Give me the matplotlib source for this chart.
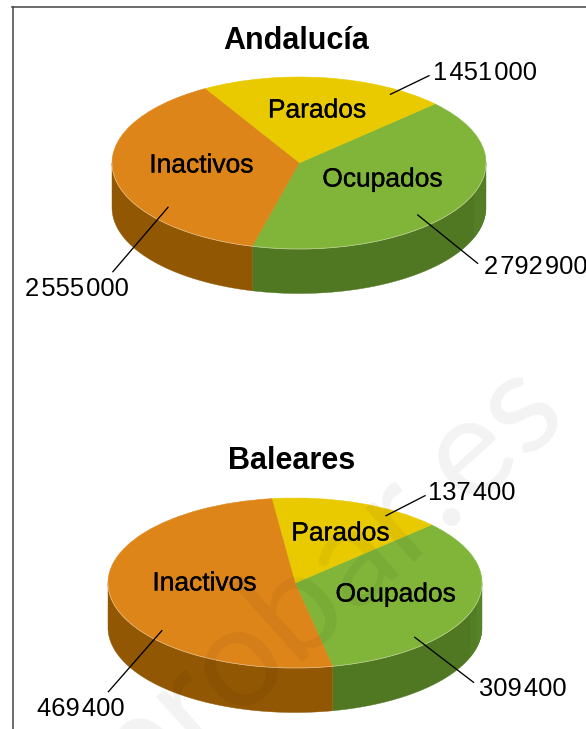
import numpy as np
import matplotlib
matplotlib.use("Agg")
import matplotlib.pyplot as plt
import matplotlib.patheffects as pe
from matplotlib.lines import Line2D
from matplotlib.patches import Polygon

W, H = 586, 729
plt.rcParams['font.family'] = ['Liberation Sans', 'DejaVu Sans']

categories = ['Ocupados', 'Parados', 'Inactivos']
andalucia_values = [2792900, 1451000, 2555000]
baleares_values = [309400, 137400, 469400]
titles = ['Andalucía', 'Baleares']

TOP = {'Ocupados': '#80B53A', 'Parados': '#E9CA00', 'Inactivos': '#DE851A'}
SIDE = {'Ocupados': '#507823', 'Parados': '#A08A00', 'Inactivos': '#915703'}
STRIP = '#547E25'
HEAVY = [pe.withStroke(linewidth=0.2, foreground='black')]


def fx(x):
    return x / W


def fy(y):
    return 1 - y / H


def fnum(v):
    return f"{v:,}".replace(',', '\u200a')


fig = plt.figure(figsize=(W / 100, H / 100), dpi=100, facecolor='white')


def draw_pie(values, title, cx, cy, rx, ry, depth, start, title_xy, cat_xy, leaders, strips):
    ax = fig.add_axes([fx(cx - rx), fy(cy + ry), 2 * rx / W, 2 * ry / H])
    wedges, _ = ax.pie(values, startangle=start, radius=1, center=(0, 0),
                       colors=[TOP[c] for c in categories],
                       wedgeprops={'linewidth': 0.4, 'antialiased': True})
    for w, c in zip(wedges, categories):
        w.set_edgecolor(TOP[c])
    ax.set_aspect('auto')
    ax.set_xlim(-1, 1)
    ax.set_ylim(-1, 1)
    ax.axis('off')

    d = depth / ry
    frac = np.cumsum([0] + list(values)) / sum(values)
    angles = start + 360 * frac
    for i, c in enumerate(categories):
        for lo_base in (0, 360, -360):
            a0 = max(angles[i], 180 + lo_base)
            a1 = min(angles[i + 1], 360 + lo_base)
            if a1 <= a0:
                continue
            t = np.radians(np.linspace(a0, a1, 120))
            top = np.column_stack([np.cos(t), np.sin(t)])
            bot = top[::-1] - [0, d]
            ax.add_patch(Polygon(np.vstack([top, bot]), closed=True, fc=SIDE[c],
                                 ec=SIDE[c], lw=0.3, clip_on=False, zorder=0.5))
            ax.plot(top[:, 0], top[:, 1], color='#EFEBD8', lw=0.5, alpha=0.6,
                    clip_on=False, zorder=3)
    for x0, color in strips:
        t = np.radians(np.linspace(-np.degrees(np.arccos(x0)), 0, 40))
        top = np.column_stack([np.cos(t), np.sin(t)])
        bot = top[::-1] - [0, d]
        ax.add_patch(Polygon(np.vstack([top, bot]), closed=True, fc=color,
                             ec='none', clip_on=False, zorder=0.6))

    fig.text(fx(title_xy[0]), fy(title_xy[1]), title, ha='center', va='center',
             fontsize=22, fontweight='bold', color='black', zorder=6)
    for c, (x, y) in zip(categories, cat_xy):
        fig.text(fx(x), fy(y), c, ha='center', va='center', fontsize=19,
                 color='black', zorder=6, path_effects=HEAVY)
    for v, (lx, ly, p0, p1) in zip(values, leaders):
        fig.add_artist(Line2D([fx(p0[0]), fx(p1[0])], [fy(p0[1]), fy(p1[1])],
                              color='black', lw=0.95, zorder=6))
        fig.text(fx(lx), fy(ly), fnum(v), ha='left', va='center', fontsize=18.4,
                 color='black', zorder=6)


draw_pie(andalucia_values, titles[0], 299, 163, 187, 86, 44.5, -104.5,
         (296, 41),
         [(382.5, 179.5), (317, 110.5), (201.5, 165.5)],
         [(484, 266.5, (417.8, 215), (477.6, 263.3)),
          (432.7, 72.5, (390.5, 94.3), (429, 75.7)),
          (25.4, 289.5, (168, 207.3), (112.9, 271.7))],
         [(0.936, STRIP)])
draw_pie(baleares_values, titles[1], 295, 583, 187, 85, 44.5, -78.4,
         (292, 461),
         [(395.7, 594.5), (340.4, 533.5), (204.6, 583.5)],
         [(479.4, 689.5, (414.8, 637.3), (473.5, 682.3)),
          (428, 492.5, (386, 515.7), (425, 495.7)),
          (37.4, 709.5, (161.8, 630.7), (108.4, 691.7))],
         [(0.936, STRIP), (0.973, '#588428')])

# sheet frame
frame = '#444444'
fig.add_artist(Line2D([fx(12.5), fx(12.5)], [fy(7), 0], color=frame, lw=1.1))
fig.add_artist(Line2D([fx(12), 1], [fy(7), fy(7)], color=frame, lw=1.1))

# watermark
fig.text(fx(325), fy(578), 'probar.es', rotation=42, rotation_mode='anchor',
         ha='center', va='center', fontsize=102, color='black', alpha=0.05,
         family=['Lato', 'DejaVu Sans'], zorder=8)

fig.savefig('out.png', dpi=100)
